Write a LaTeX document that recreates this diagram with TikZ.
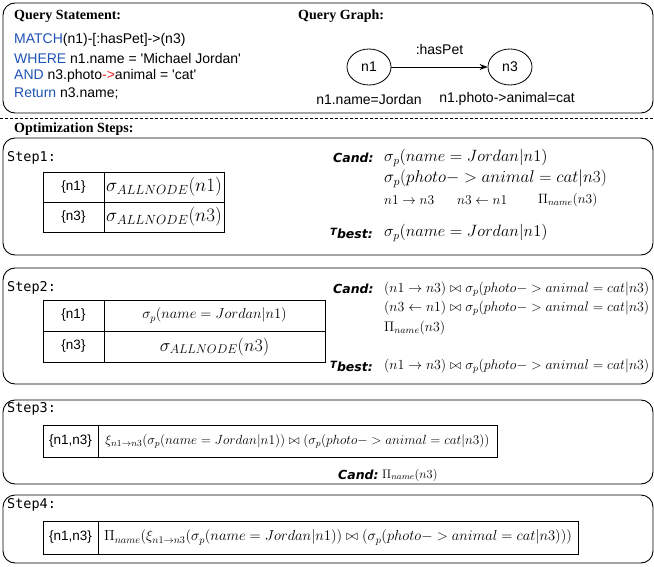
\RequirePackage{fix-cm}
\documentclass[tikz,border=0pt]{standalone}
\usepackage{fontspec}
\usetikzlibrary{shapes.geometric,arrows.meta}
\newfontfamily\sansA{Liberation Sans}
\newfontfamily\serifT{Liberation Serif}
\newfontfamily\monoD{DejaVu Sans Mono}
\newfontfamily\candF{DejaVu Sans}
\definecolor{kw}{RGB}{30,82,180}
\definecolor{arr}{RGB}{232,30,30}
\newcommand{\fs}[1]{\fontsize{#1}{#1}\selectfont}
\newcommand{\tbest}{\raisebox{3pt}{\fs{10}T}best:}
\begin{document}
\begin{tikzpicture}[x=1pt,y=-1pt,
  panel/.style={draw, line width=0.9pt, rounded corners=12pt, inner sep=0},
  cell/.style={draw, line width=0.8pt, inner sep=0},
  heading/.style={font=\serifT\bfseries\fs{14}, anchor=west, inner sep=0},
  code/.style={font=\sansA\fs{14}, anchor=west, inner sep=0},
  steplbl/.style={font=\monoD\fs{13.5}, anchor=west, inner sep=0},
  candlbl/.style={font=\candF\bfseries\itshape\fs{12.5}, anchor=west, inner sep=0},
  expr/.style={anchor=west, inner sep=0},
  gnode/.style={draw, ellipse, line width=0.8pt, minimum width=44pt, minimum height=36pt, inner sep=0, font=\sansA\fs{14}},
  glabel/.style={font=\sansA\fs{14}, inner sep=0},
  celltxt/.style={font=\sansA\fs{13.5}}
]
\useasboundingbox (0,0) rectangle (654,567);

% ---------- query panel ----------
\node[panel, minimum width=650pt, minimum height=110pt] (qpanel) at (328,58) {};
\node[heading] (qsh) at (14,16) {Query Statement:};
\node[code] (c1) at (14,40) {\textcolor{kw}{MATCH}(n1)-[:hasPet]->(n3)};
\node[code] (c2) at (14,58) {\textcolor{kw}{WHERE} n1.name = 'Michael Jordan'};
\node[code] (c3) at (14,76) {\textcolor{kw}{AND} n3.photo\textcolor{arr}{->}animal = 'cat'};
\node[code] (c4) at (14,94) {\textcolor{kw}{Return} n3.name;};

\node[heading] (qgh) at (298,16) {Query Graph:};
\node[gnode] (n1) at (369,67) {n1};
\node[gnode] (n3) at (510,67) {n3};
\draw[line width=0.8pt, -{Stealth[length=8pt,width=6pt]}] (n1) -- node[glabel, above=12pt] (hp) {:hasPet} (n3);
\node[glabel] (l1) at (369,99) {n1.name=Jordan};
\node[glabel] (l3) at (507,99) {n1.photo->animal=cat};

% separator
\coordinate (sepL) at (0,118);
\coordinate (sepR) at (654,118);
\draw[line width=0.8pt, dash pattern=on 3pt off 2pt] (sepL) -- (sepR);
\node[heading] (osh) at (14,129) {Optimization Steps:};

% ---------- step 1 ----------
\node[panel, minimum width=650pt, minimum height=117pt] (p1) at (328,196.5) {};
\node[steplbl] (st1) at (7,158) {Step1:};
\node[cell, minimum width=61pt, minimum height=30pt, celltxt] (a1k) at (73.5,187) {\{n1\}};
\node[cell, minimum width=120pt, minimum height=30pt] (a1v) at (164,187) {\fs{19}$\sigma_{ALLNODE}(n1)$};
\node[cell, minimum width=61pt, minimum height=30pt, celltxt] (a2k) at (73.5,217) {\{n3\}};
\node[cell, minimum width=120pt, minimum height=30pt] (a2v) at (164,217) {\fs{19}$\sigma_{ALLNODE}(n3)$};

\node[candlbl] (cand1) at (333,158) {Cand:};
\node[expr] (e11) at (384,158) {\fs{16.4}$\sigma_p(name = Jordan|n1)$};
\node[expr] (e12) at (384,179) {\fs{17}$\sigma_p(photo->animal = cat|n3)$};
\node[expr] (e13) at (384,200) {\fs{13.5}$n1\rightarrow n3$};
\node[expr] (e14) at (457,200) {\fs{13.5}$n3\leftarrow n1$};
\node[expr] (e15) at (538,200) {\fs{13.5}$\Pi_{name}(n3)$};
\node[candlbl] (tb1) at (330,233) {\tbest};
\node[expr] (e16) at (384,233) {\fs{16.4}$\sigma_p(name = Jordan|n1)$};

% ---------- step 2 ----------
\node[panel, minimum width=650pt, minimum height=116pt] (p2) at (328,326) {};
\node[steplbl] (st2) at (7,288) {Step2:};
\node[cell, minimum width=61pt, minimum height=31pt, celltxt] (b1k) at (73.5,315.5) {\{n1\}};
\node[cell, minimum width=221pt, minimum height=31pt] (b1v) at (214.5,315.5) {\fs{14.5}$\sigma_p(name = Jordan|n1)$};
\node[cell, minimum width=61pt, minimum height=31pt, celltxt] (b2k) at (73.5,346.5) {\{n3\}};
\node[cell, minimum width=221pt, minimum height=31pt] (b2v) at (214.5,346.5) {\fs{18}$\sigma_{ALLNODE}(n3)$};

\node[candlbl] (cand2) at (333,289) {Cand:};
\node[expr] (e21) at (384,289) {\fs{13.9}$(n1\rightarrow n3)\bowtie\sigma_p(photo->animal = cat|n3)$};
\node[expr] (e22) at (384,308) {\fs{13.9}$(n3\leftarrow n1)\bowtie\sigma_p(photo->animal = cat|n3)$};
\node[expr] (e23) at (384,328) {\fs{13.9}$\Pi_{name}(n3)$};
\node[candlbl] (tb2) at (330,366) {\tbest};
\node[expr] (e24) at (384,366) {\fs{13.9}$(n1\rightarrow n3)\bowtie\sigma_p(photo->animal = cat|n3)$};

% ---------- step 3 ----------
\node[panel, minimum width=650pt, minimum height=84pt] (p3) at (328,442) {};
\node[steplbl] (st3) at (7,409) {Step3:};
\node[cell, minimum width=55pt, minimum height=32pt, celltxt] (c1k) at (70.5,441) {\{n1,n3\}};
\node[cell, minimum width=399pt, minimum height=32pt] (c1v) at (297.5,441) {\fs{13.3}$\xi_{n1\rightarrow n3}(\sigma_p(name = Jordan|n1))\bowtie(\sigma_p(photo->animal = cat|n3))$};
\node[candlbl] (cand3) at (338,475) {Cand:};
\node[expr] (e31) at (382,475) {\fs{12.4}$\Pi_{name}(n3)$};

% ---------- step 4 ----------
\node[panel, minimum width=650pt, minimum height=68pt] (p4) at (328,529) {};
\node[steplbl] (st4) at (7,505) {Step4:};
\node[cell, minimum width=55pt, minimum height=33pt, celltxt] (d1k) at (70.5,537.5) {\{n1,n3\}};
\node[cell, minimum width=480pt, minimum height=33pt] (d1v) at (338,537.5) {\fs{14.6}$\Pi_{name}(\xi_{n1\rightarrow n3}(\sigma_p(name = Jordan|n1))\bowtie(\sigma_p(photo->animal = cat|n3)))$};
\end{tikzpicture}
\end{document}
